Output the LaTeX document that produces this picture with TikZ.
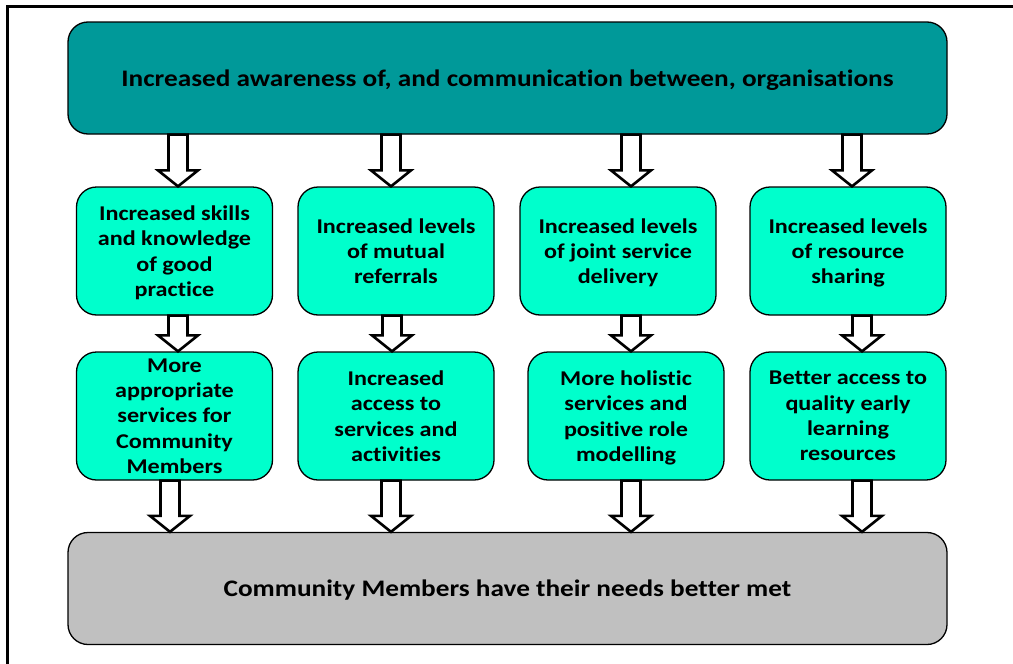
\documentclass[tikz,border=0pt]{standalone}
\usepackage{fontspec}
\setmainfont[FakeStretch=1.15,Ligatures=NoCommon]{Carlito}
\usetikzlibrary{calc}

\definecolor{topteal}{HTML}{009999}
\definecolor{midaqua}{HTML}{00FFCC}
\definecolor{basegray}{HTML}{C0C0C0}

\tikzset{
  box/.style={draw=black, line width=1.3pt, rounded corners=20pt,
    rectangle, inner sep=0pt, align=center, text depth=0pt},
  widebox/.style={box, minimum width=879pt, minimum height=112pt,
    font=\bfseries\fontsize{23.7}{28}\selectfont},
  smallbox/.style={box, fill=midaqua, minimum width=196pt, minimum height=128pt,
    font=\bfseries\fontsize{21}{25.3}\selectfont},
  blkarr/.style={draw=black, fill=white, line width=2.6pt, line join=miter},
}

% hollow block arrow at horizontal position #1, from node #2 (south) to node #3 (north)
\newcommand\blockarrow[3]{%
  \draw[blkarr] let \p1=(#2.south), \p2=(#3.north) in
    (#1pt-9.5pt,\y1) -- (#1pt+9.5pt,\y1) -- (#1pt+9.5pt,\y2+16pt)
    -- (#1pt+20pt,\y2+16pt) -- (#1pt,\y2) -- (#1pt-20pt,\y2+16pt)
    -- (#1pt-9.5pt,\y2+16pt) -- cycle;}

\begin{document}
\begin{tikzpicture}[x=1pt,y=-1pt]
\useasboundingbox (0,0) rectangle (1013,664);

% outer frame
\draw[line width=2.6pt] (7.5,720) -- (7.5,6.5) -- (1060,6.5);

% top and bottom bands
\node[widebox, fill=topteal] (top) at (507.5,78) {Increased awareness of, and communication between, organisations};
\node[widebox, fill=basegray] (base) at (507.5,588.5) {Community Members have their needs better met};

% first row
\node[smallbox] (r1a) at (174.5,251) {Increased skills\\and knowledge\\of good\\practice};
\node[smallbox] (r1b) at (396,251) {Increased levels\\of mutual\\referrals};
\node[smallbox] (r1c) at (618,251) {Increased levels\\of joint service\\delivery};
\node[smallbox] (r1d) at (848,251) {Increased levels\\of resource\\sharing};

% second row
\node[smallbox] (r2a) at (174.5,416) {More\\appropriate\\services for\\Community\\Members};
\node[smallbox] (r2b) at (396,416) {Increased\\access to\\services and\\activities};
\node[smallbox] (r2c) at (626,416) {More holistic\\services and\\positive role\\modelling};
\node[smallbox] (r2d) at (848,416) {Better access to\\quality early\\learning\\resources};

% arrows: top band to first row
\blockarrow{178}{top}{r1a}
\blockarrow{391}{top}{r1b}
\blockarrow{631}{top}{r1c}
\blockarrow{852}{top}{r1d}

% arrows: first row to second row
\blockarrow{178}{r1a}{r2a}
\blockarrow{392}{r1b}{r2b}
\blockarrow{631}{r1c}{r2c}
\blockarrow{862}{r1d}{r2d}

% arrows: second row to bottom band
\blockarrow{170}{r2a}{base}
\blockarrow{391}{r2b}{base}
\blockarrow{631}{r2c}{base}
\blockarrow{862}{r2d}{base}
\end{tikzpicture}
\end{document}
